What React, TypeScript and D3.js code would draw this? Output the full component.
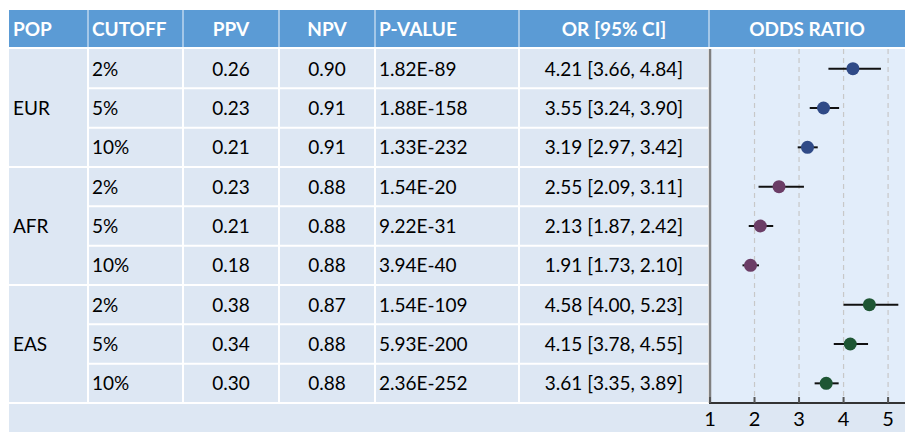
import * as d3 from "d3";

// table content
const headers = ["POP", "CUTOFF", "PPV", "NPV", "P-VALUE", "OR [95% CI]", "ODDS RATIO"];
const pops = ["EUR", "AFR", "EAS"];
const cutoffs = ["2%", "5%", "10%"];
const ppv = [0.26, 0.23, 0.21, 0.23, 0.21, 0.18, 0.38, 0.34, 0.3];
const npv = [0.9, 0.91, 0.91, 0.88, 0.88, 0.88, 0.87, 0.88, 0.88];
const pValues = [
  "1.82E-89", "1.88E-158", "1.33E-232",
  "1.54E-20", "9.22E-31", "3.94E-40",
  "1.54E-109", "5.93E-200", "2.36E-252",
];
const oddsRatio = [4.21, 3.55, 3.19, 2.55, 2.13, 1.91, 4.58, 4.15, 3.61];
const ciLow = [3.66, 3.24, 2.97, 2.09, 1.87, 1.73, 4.0, 3.78, 3.35];
const ciHigh = [4.84, 3.9, 3.42, 3.11, 2.42, 2.1, 5.23, 4.55, 3.89];
const axisTicks = [1, 2, 3, 4, 5];

const popColors = ["#2f4a87", "#6b3d66", "#1e5634"];

const W = 905;
const H = 435;
const FONT = "Lato, 'Open Sans', sans-serif";
const HEADER_BG = "#5b9bd5";
const CELL_BG = "#dde7f3";
const PLOT_BG = "#e2edfa";

// column edges
const colEdges = [9, 88, 183, 279, 375, 519, 709, 905];
const top = 10;
const headerBottom = 48;
const bodyTop = 49;
const bodyBottom = 403;
const bottomRow = 432;

export default function App() {
  const rowIds = d3.range(ppv.length);
  const y = d3.scaleBand<number>().domain(rowIds).range([bodyTop, bodyBottom]);
  const x = d3.scaleLinear().domain([1, 5.38]).range([710, 905]);

  const fmt = d3.format(".2f");
  const rowLabel = (i: number) => `${fmt(oddsRatio[i])} [${fmt(ciLow[i])}, ${fmt(ciHigh[i])}]`;

  const colCenter = (c: number) => (colEdges[c] + colEdges[c + 1]) / 2;
  // left aligned columns: POP, CUTOFF, P-VALUE
  const headerAnchor = ["start", "start", "middle", "middle", "start", "middle", "middle"];
  const colTextX = (c: number) =>
    headerAnchor[c] === "start" ? colEdges[c] + 4 : colCenter(c);

  return (
    <svg
      width={W}
      height={H}
      style={{ position: "absolute", left: 0, top: 0, background: "white" }}
      fontFamily={FONT}
    >
      {/* header */}
      <rect x={colEdges[0]} y={top} width={W - colEdges[0]} height={headerBottom - top} fill={HEADER_BG} />
      {headers.map((h, c) => (
        <text
          key={h}
          x={colTextX(c)}
          y={(top + headerBottom) / 2}
          dy="0.36em"
          textAnchor={headerAnchor[c]}
          fill="white"
          fontWeight="bold"
          fontSize={19}
        >
          {h}
        </text>
      ))}
      {colEdges.slice(1, -1).map((e) => (
        <line key={"hv" + e} x1={e} x2={e} y1={top} y2={headerBottom} stroke="white" strokeOpacity={0.6} strokeWidth={1.5} />
      ))}

      {/* body background */}
      <rect x={colEdges[0]} y={headerBottom} width={W - colEdges[0]} height={bottomRow - headerBottom} fill={CELL_BG} />
      <rect x={colEdges[6]} y={bodyTop} width={W - colEdges[6]} height={bodyBottom - bodyTop} fill={PLOT_BG} />
      <line x1={colEdges[0]} x2={W} y1={headerBottom} y2={headerBottom} stroke="white" strokeWidth={2} />

      {/* row lines */}
      {rowIds.slice(1).map((i) => (
        <line
          key={"r" + i}
          x1={i % 3 === 0 ? colEdges[0] : colEdges[1]}
          x2={colEdges[6]}
          y1={y(i)!}
          y2={y(i)!}
          stroke="white"
          strokeWidth={2}
        />
      ))}
      <line x1={colEdges[0]} x2={colEdges[6]} y1={bodyBottom} y2={bodyBottom} stroke="white" strokeWidth={2} />
      {colEdges.slice(1, -1).map((e) => (
        <line key={"v" + e} x1={e} x2={e} y1={bodyTop} y2={bodyBottom} stroke="white" strokeWidth={2} />
      ))}

      {/* population labels */}
      {pops.map((p, g) => (
        <text
          key={p}
          x={colTextX(0)}
          y={y(g * 3 + 1)! + y.bandwidth() / 2}
          dy="0.36em"
          fontSize={19}
          fill="#000"
        >
          {p}
        </text>
      ))}

      {/* row cells */}
      {rowIds.map((i) => {
        const cy = y(i)! + y.bandwidth() / 2;
        const cells = [cutoffs[i % 3], fmt(ppv[i]), fmt(npv[i]), pValues[i], rowLabel(i)];
        return (
          <g key={"row" + i}>
            {cells.map((t, k) => (
              <text
                key={k}
                x={colTextX(k + 1)}
                y={cy}
                dy="0.36em"
                textAnchor={headerAnchor[k + 1]}
                fontSize={19}
                fill="#000"
              >
                {t}
              </text>
            ))}
          </g>
        );
      })}

      {/* forest plot */}
      {axisTicks.slice(1).map((t) => (
        <line
          key={"g" + t}
          x1={x(t)}
          x2={x(t)}
          y1={bodyTop}
          y2={bodyBottom}
          stroke="#c8c8c8"
          strokeWidth={1.2}
          strokeDasharray="5,4"
        />
      ))}
      <line x1={x(1)} x2={x(1)} y1={bodyTop} y2={bodyBottom} stroke="#808080" strokeWidth={2.5} />
      <line x1={x(1) - 1} x2={W} y1={bodyBottom} y2={bodyBottom} stroke="#333" strokeWidth={2} />
      {axisTicks.map((t) => (
        <g key={"t" + t}>
          <line x1={x(t)} x2={x(t)} y1={bodyBottom - 6} y2={bodyBottom} stroke="#555" strokeWidth={2} />
          <text x={x(t)} y={419} dy="0.36em" textAnchor="middle" fontSize={20} fill="#000">
            {t}
          </text>
        </g>
      ))}
      {rowIds.map((i) => {
        const cy = y(i)! + y.bandwidth() / 2;
        return (
          <g key={"f" + i}>
            <line x1={x(ciLow[i])} x2={x(ciHigh[i])} y1={cy} y2={cy} stroke="#111" strokeWidth={2} />
            <circle cx={x(oddsRatio[i])} cy={cy} r={6.5} fill={popColors[Math.floor(i / 3)]} />
          </g>
        );
      })}
    </svg>
  );
}
